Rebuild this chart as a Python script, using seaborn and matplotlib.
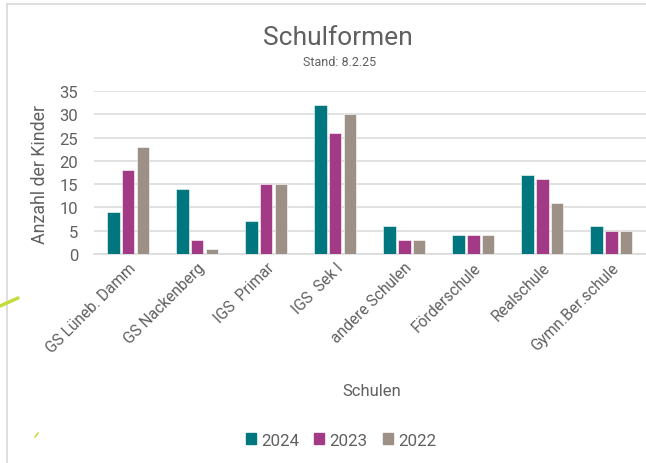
import matplotlib
matplotlib.use("Agg")
import matplotlib.pyplot as plt
import seaborn as sns
import pandas as pd
from matplotlib.lines import Line2D

schools = ["GS Lüneb. Damm", "GS Nackenberg", "IGS  Primar", "IGS  Sek I",
           "andere Schulen", "Förderschule", "Realschule", "Gymn.Ber.schule"]
years = ["2024", "2023", "2022"]
v2024 = [9, 14, 7, 32, 6, 4, 17, 6]
v2023 = [18, 3, 15, 26, 3, 4, 16, 5]
v2022 = [23, 1, 15, 30, 3, 4, 11, 5]
yticks = [0, 5, 10, 15, 20, 25, 30, 35]

colors = ["#00767F", "#A33A85", "#9D9086"]
txt = "#606060"

rows = []
for y, vals in zip(years, [v2024, v2023, v2022]):
    for s, v in zip(schools, vals):
        rows.append({"Schule": s, "Jahr": y, "Anzahl": v})
df = pd.DataFrame(rows)

sns.set_theme(style="white")
plt.rcParams["font.family"] = ["Roboto", "DejaVu Sans"]

fig = plt.figure(figsize=(6.46, 4.64), dpi=100)
ax = fig.add_axes([93.5 / 646, 1 - 255 / 464, (646 - 93.5) / 646, 163 / 464])

sns.barplot(data=df, x="Schule", y="Anzahl", hue="Jahr", hue_order=years,
            palette=colors, width=0.64, gap=0.15, ax=ax, legend=False,
            saturation=1, edgecolor="white", linewidth=0.4, zorder=3)

ax.set_ylim(0, 35)
ax.set_yticks(yticks)
ax.set_xlim(-0.5, len(schools) - 0.5)
ax.grid(axis="y", color="#D9D9D9", linewidth=1.1, zorder=0)
ax.set_axisbelow(True)
for sp in ["top", "right", "left"]:
    ax.spines[sp].set_visible(False)
ax.spines["bottom"].set_color("#D9D9D9")
ax.spines["bottom"].set_linewidth(1.1)
ax.tick_params(axis="y", length=0, pad=11, labelsize=12, labelcolor=txt)
ax.tick_params(axis="x", length=0, pad=4, labelsize=11.2, labelcolor=txt)
ax.set_xticks(range(len(schools)))
ax.set_xticklabels(schools, rotation=45, ha="right", rotation_mode="anchor")
ax.set_xlabel("")
ax.set_ylabel("")

fig.text(40 / 646, 1 - 174 / 464, "Anzahl der Kinder", rotation=90, ha="center",
         va="center", fontsize=12.8, color=txt)
fig.text(372 / 646, 1 - 392 / 464, "Schulen", ha="center", va="center",
         fontsize=12, color=txt)
fig.text(338 / 646, 1 - 38 / 464, "Schulformen", ha="center", va="center",
         fontsize=19, color=txt)
fig.text(340 / 646, 1 - 62 / 464, "Stand: 8.2.25", ha="center", va="center",
         fontsize=9, color=txt)

handles = [plt.Rectangle((0, 0), 1, 1, color=c) for c in colors]
fig.legend(handles, years, loc="center", bbox_to_anchor=(341 / 646, 1 - 441 / 464),
           ncol=3, frameon=False, labelcolor=txt,
           handlelength=0.6, handleheight=0.6, handletextpad=0.3,
           columnspacing=0.9, prop={"size": 12.2})

# chart border and decorative strokes
fig.add_artist(Line2D([7 / 646, 7 / 646], [0, 1 - 5 / 464], color="#D9D9D9",
                      linewidth=1.2, transform=fig.transFigure))
fig.add_artist(Line2D([7 / 646, 1], [1 - 5 / 464, 1 - 5 / 464], color="#D9D9D9",
                      linewidth=1.2, transform=fig.transFigure))
fig.add_artist(Line2D([0, 18 / 646], [1 - 307 / 464, 1 - 299 / 464], color="#C5DA3C",
                      linewidth=2.5, transform=fig.transFigure))
fig.add_artist(Line2D([35 / 646, 38 / 646], [1 - 438 / 464, 1 - 434 / 464], color="#C5DA3C",
                      linewidth=1.2, transform=fig.transFigure))

fig.savefig("out.png", dpi=100, facecolor="white")
